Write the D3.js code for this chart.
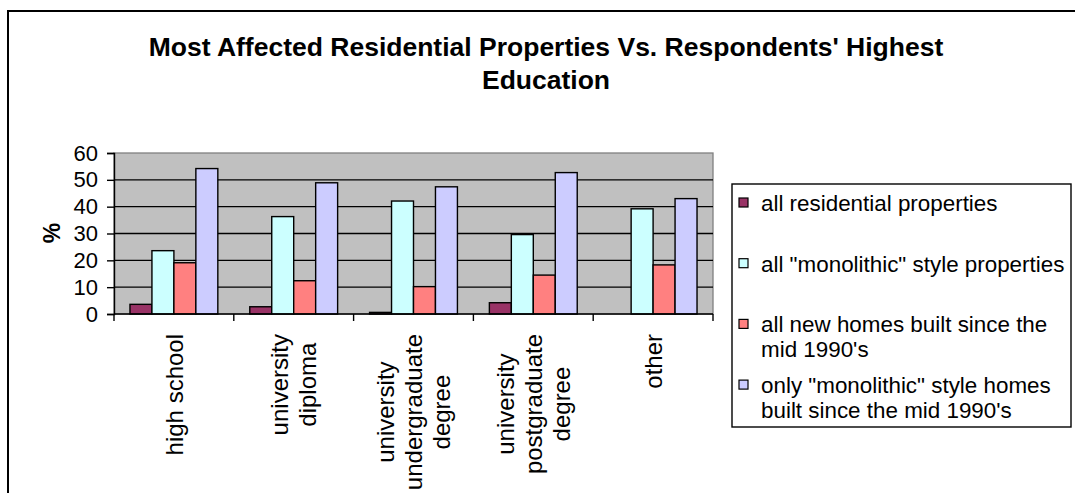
<!DOCTYPE html>
<html>
<head>
<meta charset="utf-8">
<script src="https://cdn.jsdelivr.net/npm/d3@7"></script>
<style>
  html, body { margin: 0; padding: 0; background: #fff; overflow: hidden; }
  svg { display: block; font-family: "Liberation Sans", Arial, sans-serif; }
</style>
</head>
<body>
<svg id="chart" width="1075" height="493"></svg>
<script>
// Education levels (x categories); each label is split into its wrapped lines
const categories = ["high school", "university diploma", "university undergraduate degree",
                    "university postgraduate degree", "other"];
const categoryLines = [["high school"], ["university", "diploma"],
                       ["university", "undergraduate", "degree"],
                       ["university", "postgraduate", "degree"], ["other"]];

// Series names as shown in the legend (wrapped lines)
const seriesNames = ["all residential properties", "all \"monolithic\" style properties",
                     "all new homes built since the mid 1990's",
                     "only \"monolithic\" style homes built since the mid 1990's"];
const seriesLines = [["all residential properties"], ["all \"monolithic\" style properties"],
                     ["all new homes built since the", "mid 1990's"],
                     ["only \"monolithic\" style homes", "built since the mid 1990's"]];
const seriesColors = ["#993366", "#CCFFFF", "#FF8080", "#CCCCFF"];

// Percent values per series, one entry per category
const allResidential   = [3.6, 2.7, 0.6, 4.2, 0];
const allMonolithic    = [23.6, 36.3, 42.1, 29.6, 39.2];
const allNewHomes      = [19.1, 12.4, 10.2, 14.5, 18.3];
const newMonolithic    = [54.2, 48.9, 47.4, 52.7, 43.0];
const seriesValues = [allResidential, allMonolithic, allNewHomes, newMonolithic];

const yTicks = [0, 10, 20, 30, 40, 50, 60];
const titleLines = ["Most Affected Residential Properties Vs. Respondents' Highest", "Education"];
const yLabel = "%";

const svg = d3.select("#chart");

// outer chart frame
svg.append("rect").attr("x", 8).attr("y", 11).attr("width", 1100).attr("height", 520)
  .attr("fill", "#fff").attr("stroke", "#000").attr("stroke-width", 2);

// plot area
const plot = { left: 114, right: 713, top: 153, bottom: 314 };

const x = d3.scaleBand().domain(categories).range([plot.left, plot.right]).padding(0);
// four bars per group, 22px wide with 16px of gray on either side
const xs = d3.scaleBand().domain(d3.range(seriesNames.length))
  .range([0, x.bandwidth()]).paddingInner(0).paddingOuter(16 / 22);
const y = d3.scaleLinear().domain([0, 60]).range([plot.bottom, plot.top]);

svg.append("rect").attr("x", plot.left).attr("y", plot.top)
  .attr("width", plot.right - plot.left).attr("height", plot.bottom - plot.top)
  .attr("fill", "#C0C0C0").attr("stroke", "#808080").attr("stroke-width", 1.3);

// horizontal gridlines
svg.append("g").selectAll("line").data(yTicks.filter(t => t > 0 && t < 60)).join("line")
  .attr("x1", plot.left).attr("x2", plot.right)
  .attr("y1", d => y(d)).attr("y2", d => y(d))
  .attr("stroke", "#000").attr("stroke-width", 1.3);

// bars
const groups = svg.append("g").selectAll("g").data(categories).join("g")
  .attr("transform", d => `translate(${x(d)},0)`);
groups.selectAll("rect")
  .data((c, ci) => seriesValues.map((vals, si) => ({ si, v: vals[ci] })))
  .join("rect")
  .attr("x", d => xs(d.si))
  .attr("width", xs.bandwidth())
  .attr("y", d => y(d.v))
  .attr("height", d => y(0) - y(d.v))
  .attr("fill", d => seriesColors[d.si])
  .attr("stroke", d => d.v > 0 ? "#000" : "none")
  .attr("stroke-width", 1.4);

// y axis
const yAxis = d3.axisLeft(y).tickValues(yTicks).tickSize(7).tickPadding(9);
const gy = svg.append("g").attr("transform", `translate(${plot.left},0)`).call(yAxis);
gy.select(".domain").attr("stroke", "#000").attr("stroke-width", 1.4);
gy.selectAll(".tick line").attr("stroke", "#000").attr("stroke-width", 1.4);
gy.selectAll(".tick text").attr("font-size", 22).attr("fill", "#000")
  .attr("font-family", "Liberation Sans, Arial, sans-serif");

// x axis: ticks at category boundaries
svg.append("line").attr("x1", plot.left).attr("x2", plot.right)
  .attr("y1", plot.bottom).attr("y2", plot.bottom)
  .attr("stroke", "#000").attr("stroke-width", 1.4);
const bounds = categories.map(c => x(c)).concat([x(categories[categories.length - 1]) + x.bandwidth()]);
svg.append("g").selectAll("line").data(bounds).join("line")
  .attr("x1", d => d).attr("x2", d => d)
  .attr("y1", plot.bottom).attr("y2", plot.bottom + 7)
  .attr("stroke", "#000").attr("stroke-width", 1.4);

// rotated category labels, block top-aligned below the axis, lines centred
const xFont = 24, xLineH = 28, xTop = 334;
categories.forEach((c, ci) => {
  const lines = categoryLines[ci];
  const g = svg.append("g");
  const texts = lines.map(l => g.append("text").text(l).attr("font-size", xFont).attr("fill", "#000"));
  const maxLen = d3.max(texts, t => t.node().getComputedTextLength());
  const cx = x(c) + x.bandwidth() / 2;
  const n = lines.length;
  texts.forEach((t, i) => {
    const off = (i - (n - 1) / 2) * xLineH;
    // baseline sits to the right of the glyph body when rotated -90
    const bx = cx + off + xFont * 0.36;
    const cy = xTop + maxLen / 2;
    t.attr("text-anchor", "middle")
     .attr("transform", `translate(${bx},${cy}) rotate(-90)`);
  });
});

// y axis title
svg.append("text").text(yLabel).attr("font-size", 23).attr("font-weight", "bold")
  .attr("text-anchor", "middle")
  .attr("transform", `translate(60,233) rotate(-90)`);

// chart title
svg.append("g").selectAll("text").data(titleLines).join("text")
  .text(d => d).attr("x", 546).attr("y", (d, i) => 56 + i * 33)
  .attr("text-anchor", "middle").attr("font-size", 26.5).attr("font-weight", "bold");

// legend
const lg = svg.append("g");
lg.append("rect").attr("x", 732).attr("y", 184).attr("width", 339).attr("height", 243)
  .attr("fill", "#fff").attr("stroke", "#000").attr("stroke-width", 1.4);
const legendFont = 22.4, legendLineH = 24.5, firstBaseline = 211, rowStep = 60.7;
seriesNames.forEach((name, i) => {
  const base = firstBaseline + i * rowStep;
  lg.append("rect").attr("x", 739).attr("y", base - 13).attr("width", 9).attr("height", 9)
    .attr("fill", seriesColors[i]).attr("stroke", "#000").attr("stroke-width", 1.2);
  seriesLines[i].forEach((l, j) => {
    lg.append("text").text(l).attr("x", 761).attr("y", base + j * legendLineH)
      .attr("font-size", legendFont).attr("fill", "#000");
  });
});
</script>
</body>
</html>
